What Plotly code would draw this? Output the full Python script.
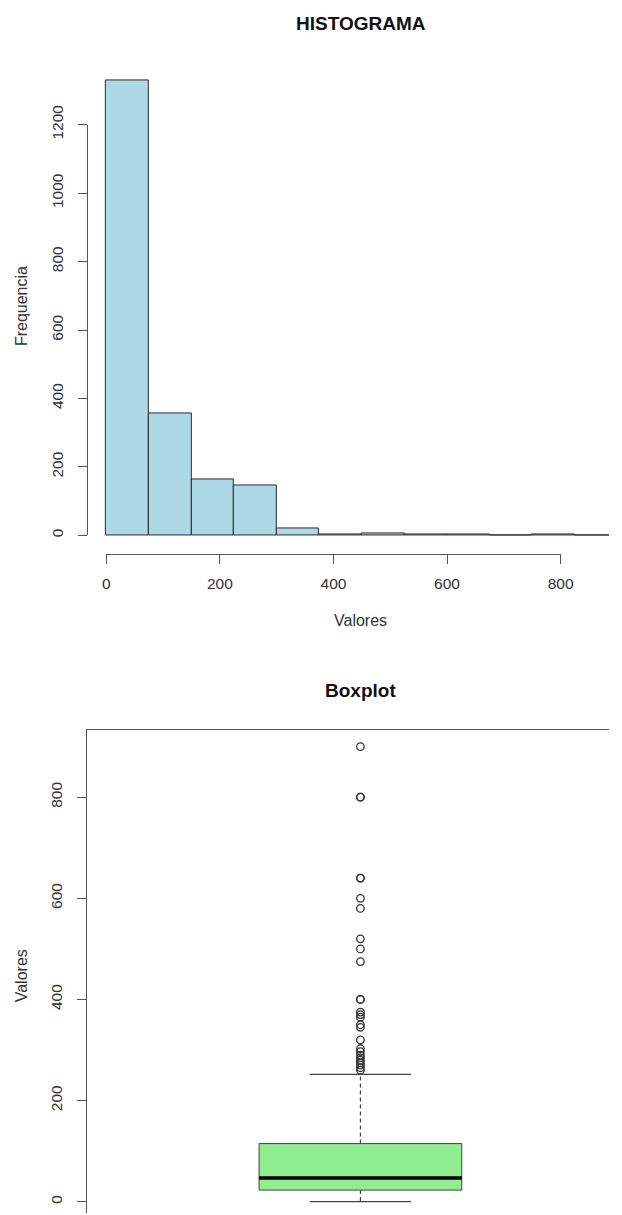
import plotly.graph_objects as go

# ---------------- data ----------------
bin_edges = [0, 75, 150, 225, 300, 375, 450, 525, 600, 675, 750, 825, 900]
hist_counts = [1330, 357, 164, 146, 21, 4, 7, 4, 4, 0, 3, 1]
hist_xticks = [0, 200, 400, 600, 800]
hist_yticks = [0, 200, 400, 600, 800, 1000, 1200]

box_q1 = 23
box_median = 47
box_q3 = 115
whisker_low = 0
whisker_high = 252
outliers = [900, 800, 800, 640, 640, 600, 580, 520, 500, 475, 400, 400, 375,
            370, 365, 350, 345, 320, 303, 297, 290, 285, 280, 275, 270, 265, 260]
box_yticks = [0, 200, 400, 600, 800]

# ---------------- layout helpers ----------------
W, H = 622, 1215
# the plot area as it appears on the captured page
X0, XW = 3.0, 606.0
Y0, YH = 18.5, 1194.5
XR = X0 + XW          # right edge on screen
YB = Y0 + YH          # bottom edge on screen

def fx(t):
    return min(max((t - X0) / XW, 0.0), 1.0)
def fy(t):
    return min(max(1 - (t - Y0) / YH, 0.0), 1.0)

FONT = "Liberation Sans, Arial, sans-serif"
AX = "#555555"
TXT = "#333333"

# histogram screen mapping
hx0, hx_per = 105.5, (560.5 - 105.5) / 800.0
hy0, hy_per = 534.5, (534.5 - 123.3) / 1200.0
# boxplot screen mapping
by0, by_per = 1201.7, (1201.7 - 796.7) / 800.0
bx_center, bx_per = 360.0, 548.0

centers = [(bin_edges[i] + bin_edges[i + 1]) / 2 for i in range(len(hist_counts))]
bw = bin_edges[1] - bin_edges[0]

fig = go.Figure()

fig.add_trace(go.Bar(
    x=centers, y=hist_counts, width=bw,
    marker=dict(color="#ADD8E6", line=dict(color="#2a2a2a", width=1)),
    xaxis="x", yaxis="y", showlegend=False, hoverinfo="x+y"))

fig.add_trace(go.Scatter(x=[None], y=[None], xaxis="x2", yaxis="y2",
                         showlegend=False, hoverinfo="skip"))

box_width = 203.0 / bx_per
fig.add_trace(go.Box(
    x=[1], q1=[box_q1], median=[box_median], q3=[box_q3],
    lowerfence=[box_q1], upperfence=[box_q3], width=box_width,
    fillcolor="#90EE90", line=dict(color="#444444", width=1),
    whiskerwidth=0, boxpoints=False,
    xaxis="x3", yaxis="y3", showlegend=False))

half = box_width / 2
cap = half / 2
fig.add_trace(go.Scatter(
    x=[1 - half, 1 + half], y=[box_median, box_median], mode="lines",
    line=dict(color="black", width=3.5), xaxis="x3", yaxis="y3",
    showlegend=False, hoverinfo="skip"))
fig.add_trace(go.Scatter(
    x=[1, 1, None, 1, 1], y=[box_q3, whisker_high, None, box_q1, whisker_low],
    mode="lines", line=dict(color="#444444", width=1.2, dash="4px,3px"),
    xaxis="x3", yaxis="y3", showlegend=False, hoverinfo="skip"))
fig.add_trace(go.Scatter(
    x=[1 - cap, 1 + cap, None, 1 - cap, 1 + cap],
    y=[whisker_high, whisker_high, None, whisker_low, whisker_low],
    mode="lines", line=dict(color="#444444", width=1.2),
    xaxis="x3", yaxis="y3", showlegend=False, hoverinfo="skip"))
fig.add_trace(go.Scatter(
    x=[1] * len(outliers), y=outliers, mode="markers",
    marker=dict(symbol="circle-open", size=7.5, color="#333333", line=dict(width=1.3)),
    xaxis="x3", yaxis="y3", showlegend=False))

tickfont = dict(family=FONT, size=15.5, color=TXT)

fig.update_layout(
    width=W, height=H,
    margin=dict(l=0, r=0, t=0, b=0),
    paper_bgcolor="white", plot_bgcolor="rgba(0,0,0,0)",
    bargap=0,
    font=dict(family=FONT, size=15, color=TXT),
    xaxis=dict(domain=[fx(100), 1.0],
               range=[(100 - hx0) / hx_per, (XR - hx0) / hx_per],
               visible=False, anchor="y"),
    yaxis=dict(domain=[fy(540), fy(60)],
               range=[(hy0 - 540) / hy_per, (hy0 - 60) / hy_per],
               visible=False, anchor="x"),
    xaxis2=dict(domain=[fx(hx0), fx(hx0 + 800 * hx_per)], range=[0, 800],
                anchor="free", position=fy(553),
                showline=True, linecolor=AX, linewidth=1,
                ticks="outside", ticklen=9, tickcolor=AX, tickwidth=1,
                tickvals=hist_xticks, ticktext=[str(v) for v in hist_xticks],
                tickfont=tickfont, ticklabelstandoff=7,
                showgrid=False, zeroline=False),
    yaxis2=dict(domain=[fy(hy0), fy(hy0 - 1200 * hy_per)], range=[0, 1200],
                anchor="free", position=fx(86),
                showline=True, linecolor=AX, linewidth=1,
                ticks="outside", ticklen=9, tickcolor=AX, tickwidth=1,
                tickvals=hist_yticks, ticktext=[str(v) for v in hist_yticks],
                tickangle=-90, tickfont=tickfont, ticklabelstandoff=9,
                showgrid=False, zeroline=False),
    xaxis3=dict(domain=[fx(86), 1.0],
                range=[0.5, 1 + (XR - bx_center) / bx_per],
                anchor="y3", side="top", showline=True, linecolor=AX, linewidth=1,
                showticklabels=False, ticks="", showgrid=False, zeroline=False),
    yaxis3=dict(domain=[0.0, fy(729)],
                range=[(by0 - YB) / by_per, (by0 - 729) / by_per],
                anchor="x3", showline=True, linecolor=AX, linewidth=1,
                ticks="outside", ticklen=9, tickcolor=AX, tickwidth=1,
                tickvals=box_yticks, ticktext=[str(v) for v in box_yticks],
                tickangle=-90, tickfont=tickfont, ticklabelstandoff=9,
                showgrid=False, zeroline=False),
    annotations=[
        dict(text="<b>HISTOGRAMA</b>", x=fx(361), y=fy(22), xref="paper", yref="paper",
             showarrow=False, xanchor="center", yanchor="middle",
             font=dict(family=FONT, size=19, color="#111111")),
        dict(text="Valores", x=fx(360), y=fy(620), xref="paper", yref="paper",
             showarrow=False, xanchor="center", yanchor="middle",
             font=dict(family=FONT, size=16, color=TXT)),
        dict(text="Frequencia", x=fx(20), y=fy(305), xref="paper", yref="paper",
             showarrow=False, xanchor="center", yanchor="middle", textangle=-90,
             font=dict(family=FONT, size=16, color=TXT)),
        dict(text="<b>Boxplot</b>", x=fx(360), y=fy(690), xref="paper", yref="paper",
             showarrow=False, xanchor="center", yanchor="middle",
             font=dict(family=FONT, size=19, color="#111111")),
        dict(text="Valores", x=fx(20), y=fy(975), xref="paper", yref="paper",
             showarrow=False, xanchor="center", yanchor="middle", textangle=-90,
             font=dict(family=FONT, size=16, color=TXT)),
    ],
)

fig.write_html("out.html")
